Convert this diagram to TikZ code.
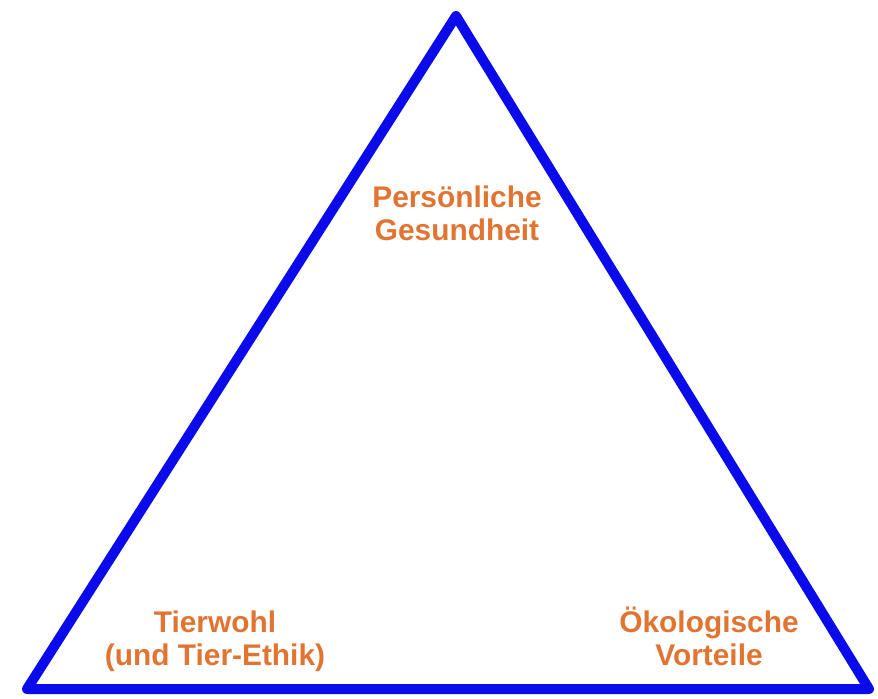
\documentclass[tikz,border=0pt]{standalone}
\usepackage{fontspec}
\setmainfont{Liberation Sans}
\definecolor{TriangleBlue}{RGB}{10,10,235}
\definecolor{AspectOrange}{RGB}{226,116,50}

\begin{document}
\begin{tikzpicture}[x=0.02cm,y=-0.02cm,
 side/.style={draw=TriangleBlue,line width=0.2cm,line join=round},
 aspect/.style={text=AspectOrange,align=center,inner sep=0pt,anchor=base,
  font=\fontsize{17}{18.5}\selectfont\bfseries}]
\useasboundingbox (0,0) rectangle (878,699);

\coordinate (apex) at (456,16);
\coordinate (corner left) at (27,689);
\coordinate (corner right) at (869,689);
\draw[side] (apex) -- (corner left) -- (corner right) -- cycle;

\node[aspect] (health) at (457,240) {Persönliche\\Gesundheit};
\node[aspect] (animals) at (215,665) {Tierwohl\\(und Tier-Ethik)};
\node[aspect] (ecology) at (709,665) {Ökologische\\Vorteile};
\end{tikzpicture}
\end{document}
